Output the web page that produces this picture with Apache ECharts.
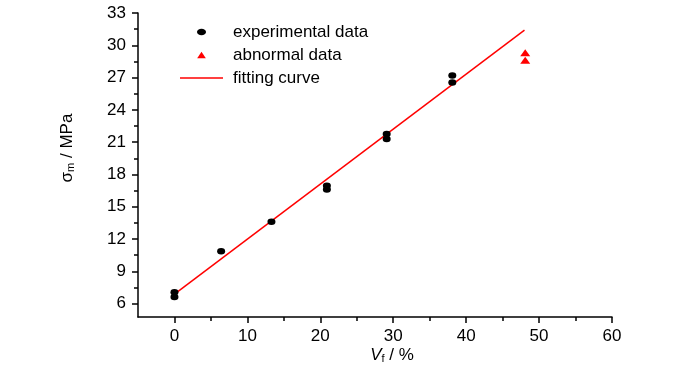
<!DOCTYPE html>
<html><head><meta charset="utf-8">
<script src="https://cdn.jsdelivr.net/npm/echarts@6/dist/echarts.min.js"></script>
<style>html,body{margin:0;padding:0;background:#fff}#c{width:700px;height:373px}</style>
</head><body><div id="c"></div>
<script>
// ---- data ----
const expX = [0, 0, 6.4, 13.3, 20.9, 20.9, 29.1, 29.1, 38.1, 38.1];
const expY = [7.05, 6.6, 10.85, 13.6, 16.95, 16.6, 21.75, 21.3, 27.2, 26.55];
const abnX = [48.1, 48.1];
const abnY = [29.3, 28.6];
const fitX = [0, 48];
const fitY = [6.87, 31.4];
const xTicks = [0, 10, 20, 30, 40, 50, 60];
const xMinorTicks = [5, 15, 25, 35, 45, 55];
const yTicks = [6, 9, 12, 15, 18, 21, 24, 27, 30, 33];
const yMinorTicks = [7.5, 10.5, 13.5, 16.5, 19.5, 22.5, 25.5, 28.5, 31.5];
const seriesNames = ['experimental data', 'abnormal data', 'fitting curve'];

const FONT = 'Liberation Sans, Arial, sans-serif';
const zip = (a, b) => a.map((v, i) => [v, b[i]]);
const X_MIN = -5, X_MAX = 60, Y_MIN = 4.75, Y_MAX = 33;

const chart = echarts.init(document.getElementById('c'), null, {renderer: 'canvas'});
const axisLine = {show: true, onZero: false, lineStyle: {color: '#000', width: 1.5}};
const noLine = {show: false, onZero: false};
const ellipseIcon = 'path://M0,2.5C0,1.12,1.57,0,3.5,0C5.43,0,7,1.12,7,2.5C7,3.88,5.43,5,3.5,5C1.57,5,0,3.88,0,2.5Z';
chart.setOption({
  backgroundColor: '#fff',
  animation: false,
  grid: {left: 138, right: 88, top: 13, bottom: 56, containLabel: false},
  legend: {
    orient: 'vertical', left: 175, top: 17,
    itemWidth: 43, itemHeight: 6.5, itemGap: 3,
    textStyle: {fontFamily: FONT, fontSize: 17, color: '#000', lineHeight: 20, padding: [0, 0, 0, 5]},
    data: [
      {name: seriesNames[0], icon: ellipseIcon, itemStyle: {color: '#000', opacity: 1}},
      {name: seriesNames[1], icon: 'path://M4,0L8,6L0,6Z', itemStyle: {color: '#ff0000', opacity: 1}},
      {name: seriesNames[2], icon: 'path://M0,0L43,0L43,1.5L0,1.5Z', itemStyle: {color: '#ff0000', opacity: 1}}
    ]
  },
  xAxis: [
    {type: 'value', min: X_MIN, max: X_MAX, position: 'bottom',
     axisLine: axisLine,
     axisTick: {show: true, length: 6, customValues: xTicks, lineStyle: {color: '#000', width: 1.5}},
     axisLabel: {customValues: xTicks, margin: 11, fontFamily: FONT, fontSize: 17, color: '#000'},
     splitLine: {show: false}},
    {type: 'value', min: X_MIN, max: X_MAX, position: 'bottom',
     axisLine: noLine,
     axisTick: {show: true, length: 4, customValues: xMinorTicks, lineStyle: {color: '#000', width: 1.5}},
     axisLabel: {show: false}, splitLine: {show: false}}
  ],
  yAxis: [
    {type: 'value', min: Y_MIN, max: Y_MAX, position: 'left',
     axisLine: axisLine,
     axisTick: {show: true, length: 6, customValues: yTicks, lineStyle: {color: '#000', width: 1.5}},
     axisLabel: {customValues: yTicks, margin: 12, fontFamily: FONT, fontSize: 17, color: '#000'},
     splitLine: {show: false}},
    {type: 'value', min: Y_MIN, max: Y_MAX, position: 'left',
     axisLine: noLine,
     axisTick: {show: true, length: 4, customValues: yMinorTicks, lineStyle: {color: '#000', width: 1.5}},
     axisLabel: {show: false}, splitLine: {show: false}}
  ],
  graphic: [
    {type: 'text', x: 392, y: 355,
     style: {text: '{i|V}{s|f}{n| / %}', align: 'center', verticalAlign: 'middle', fill: '#000',
       rich: {i: {fontFamily: FONT, fontSize: 17, fontStyle: 'italic', fill: '#000'},
              s: {fontFamily: FONT, fontSize: 11, fill: '#000', verticalAlign: 'bottom', padding: [8, 0, 0, 0]},
              n: {fontFamily: FONT, fontSize: 17, fill: '#000'}}}},
    {type: 'text', x: 67, y: 148, rotation: Math.PI / 2,
     style: {text: '{i|σ}{s|m}{n| / MPa}', align: 'center', verticalAlign: 'middle', fill: '#000',
       rich: {i: {fontFamily: FONT, fontSize: 17, fill: '#000'},
              s: {fontFamily: FONT, fontSize: 11, fill: '#000', verticalAlign: 'bottom', padding: [8, 0, 0, 0]},
              n: {fontFamily: FONT, fontSize: 17, fill: '#000'}}}}
  ],
  series: [
    {name: seriesNames[2], type: 'line', data: zip(fitX, fitY), symbol: 'none', showSymbol: false,
     lineStyle: {color: '#ff0000', width: 1.5}, itemStyle: {color: '#ff0000'}, z: 2},
    {name: seriesNames[0], type: 'scatter', data: zip(expX, expY), symbol: 'circle', symbolSize: [8, 6.5],
     itemStyle: {color: '#000', opacity: 1}, z: 3},
    {name: seriesNames[1], type: 'scatter', data: zip(abnX, abnY), symbol: 'triangle', symbolSize: [10, 7],
     itemStyle: {color: '#ff0000', opacity: 1}, z: 3}
  ]
});
</script></body></html>
